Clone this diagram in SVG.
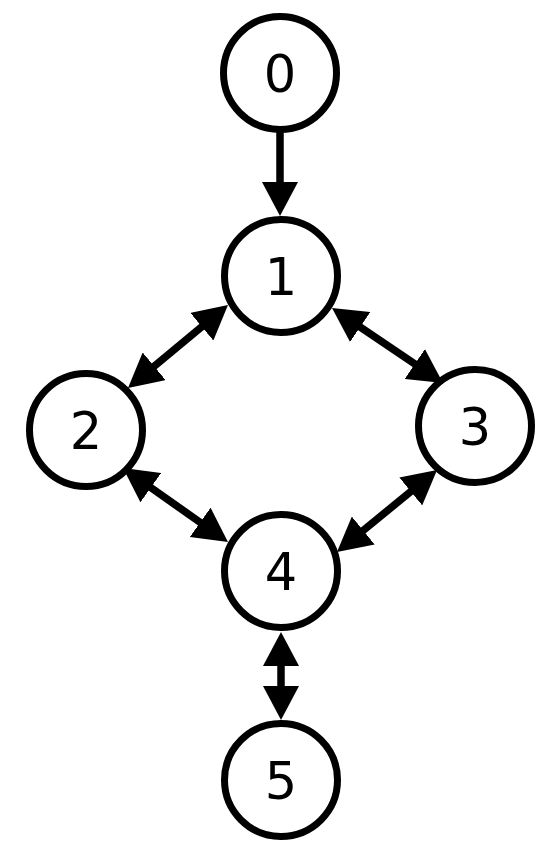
<svg xmlns="http://www.w3.org/2000/svg" width="550" height="861" viewBox="0 0 550 861">
<style>
.node circle{fill:#fff;stroke:#000;stroke-width:7}
.node text{font-family:"DejaVu Sans",sans-serif;font-size:51px;fill:#000;text-anchor:middle}
.edges line{stroke:#000;stroke-width:7.5}
</style>
<defs>
<marker id="ah" markerUnits="userSpaceOnUse" markerWidth="35" markerHeight="36" refX="24" refY="18" orient="auto-start-reverse" viewBox="0 0 35 36">
<path d="M0,0 L34,18 L0,36 z" fill="#000"/>
</marker>
</defs>
<g class="edges">
<line x1="280" y1="131" x2="280" y2="206" marker-end="url(#ah)"/>
<line x1="220.3" y1="311.4" x2="135.7" y2="381.6" marker-start="url(#ah)" marker-end="url(#ah)"/>
<line x1="340.3" y1="313.6" x2="434.7" y2="377.4" marker-start="url(#ah)" marker-end="url(#ah)"/>
<line x1="131.2" y1="473.8" x2="219.8" y2="536.2" marker-start="url(#ah)" marker-end="url(#ah)"/>
<line x1="429.3" y1="476.3" x2="344.7" y2="545.7" marker-start="url(#ah)" marker-end="url(#ah)"/>
<line x1="281" y1="642" x2="281" y2="710" marker-start="url(#ah)" marker-end="url(#ah)"/>
</g>
<g id="node0" class="node"><circle cx="280" cy="73" r="56.5"/><text x="280" y="91.5">0</text></g>
<g id="node1" class="node"><circle cx="281" cy="276" r="56.5"/><text x="281" y="294.5">1</text></g>
<g id="node2" class="node"><circle cx="86" cy="430" r="56.5"/><text x="86" y="448.5">2</text></g>
<g id="node3" class="node"><circle cx="475" cy="426" r="56.5"/><text x="475" y="444.5">3</text></g>
<g id="node4" class="node"><circle cx="281" cy="571" r="56.5"/><text x="281" y="589.5">4</text></g>
<g id="node5" class="node"><circle cx="281" cy="780" r="56.5"/><text x="281" y="798.5">5</text></g>
</svg>
